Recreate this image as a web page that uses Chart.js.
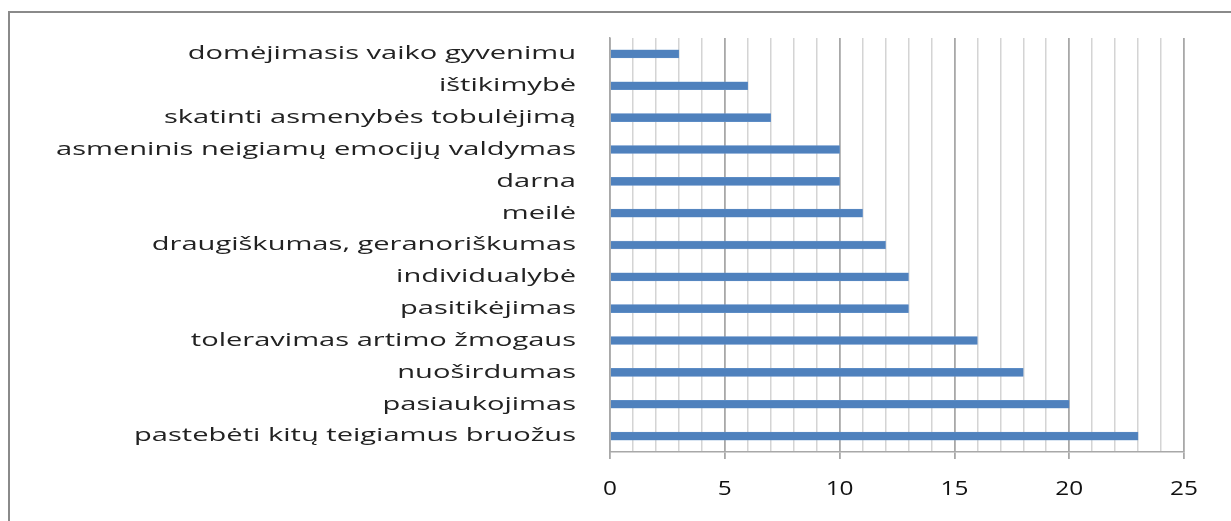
<!DOCTYPE html>
<html><head><meta charset="utf-8">
<script src="https://cdn.jsdelivr.net/npm/chart.js@4"></script>
<style>html,body{margin:0;padding:0;background:#fff;}#wrap{width:1231px;height:521px;}</style>
</head><body><div id="wrap"><canvas id="c"></canvas></div>
<script>
const categories = [
  "domėjimasis vaiko gyvenimu",
  "ištikimybė",
  "skatinti asmenybės tobulėjimą",
  "asmeninis neigiamų emocijų valdymas",
  "darna",
  "meilė",
  "draugiškumas, geranoriškumas",
  "individualybė",
  "pasitikėjimas",
  "toleravimas artimo žmogaus",
  "nuoširdumas",
  "pasiaukojimas",
  "pastebėti kitų teigiamus bruožus"
];
const values = [3, 6, 7, 10, 10, 11, 12, 13, 13, 16, 18, 20, 23];
const xTickLabels = [0, 5, 10, 15, 20, 25];

const canvas = document.getElementById('c');
const ctx0 = canvas.getContext('2d');
// The reference text is horizontally stretched; stretch glyphs about their anchor.
const origFillText = ctx0.fillText;
ctx0.fillText = function (t, x, y, ...rest) {
  let sx = 1;
  if (this.font.indexOf('19px') !== -1) sx = 1.53;
  else if (this.font.indexOf('20px') !== -1) sx = 1.22;
  if (sx === 1) return origFillText.call(this, t, x, y, ...rest);
  this.save();
  this.translate(x, y);
  this.scale(sx, 1);
  origFillText.call(this, t, 0, 0);
  this.restore();
};

const borderPlugin = {
  id: 'outerBorder',
  beforeDraw(chart) {
    const ctx = chart.ctx;
    ctx.save();
    ctx.strokeStyle = '#8a8a8a';
    ctx.lineWidth = 2;
    ctx.strokeRect(9, 12, 1240, 540);
    ctx.restore();
  }
};

new Chart(canvas, {
  type: 'bar',
  data: {
    labels: categories,
    datasets: [{
      data: values,
      backgroundColor: '#4f81bd',
      borderColor: '#6a96cc',
      borderWidth: 0.5,
      barThickness: 8
    }]
  },
  options: {
    indexAxis: 'y',
    responsive: true,
    maintainAspectRatio: false,
    animation: false,
    layout: { padding: { top: 38, right: 47, left: 0, bottom: 0 } },
    plugins: { legend: { display: false }, tooltip: { enabled: false } },
    scales: {
      x: {
        min: 0, max: 25,
        ticks: {
          stepSize: 1,
          autoSkip: false,
          maxRotation: 0,
          padding: 18,
          color: '#111',
          font: { family: 'Open Sans', size: 20 },
          callback: (v) => xTickLabels.includes(v) ? String(v) : ''
        },
        grid: {
          color: (c) => (c.tick && c.tick.value % 5 === 0) ? '#a8a8a8' : '#d4d4d4',
          lineWidth: (c) => (c.tick && c.tick.value % 5 === 0) ? 1.8 : 1.5,
          tickColor: (c) => (c.tick && c.tick.value % 5 === 0) ? '#a8a8a8' : 'rgba(0,0,0,0)',
          tickLength: 7,
          drawTicks: true
        },
        border: { display: true, color: '#a8a8a8', width: 1.5 },
        afterFit: (s) => { s.height = 521 - 452; }
      },
      y: {
        ticks: {
          color: '#222',
          padding: 4,
          autoSkip: false,
          font: { family: 'Open Sans', size: 19 }
        },
        grid: {
          display: true,
          drawOnChartArea: false,
          drawTicks: true,
          tickLength: 30,
          tickColor: 'rgba(0,0,0,0)',
          color: 'rgba(0,0,0,0)'
        },
        border: { display: true, color: '#a8a8a8', width: 1.5 },
        afterFit: (s) => { s.width = 610; }
      }
    }
  },
  plugins: [borderPlugin]
});
</script>
</body></html>
